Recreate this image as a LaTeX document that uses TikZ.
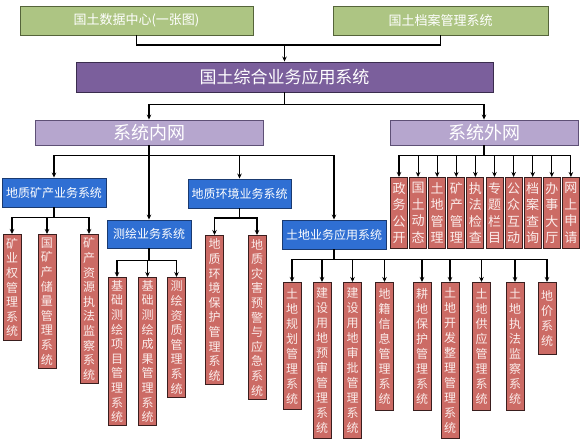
\documentclass[tikz,border=0pt]{standalone}
\usepackage{fontspec}
\newfontfamily\cjk{Noto Sans CJK SC}
\usetikzlibrary{arrows.meta}
\XeTeXlinebreaklocale "zh"
\XeTeXlinebreakskip=0pt plus 1pt

\definecolor{greenfill}{HTML}{ADC583}
\definecolor{greenline}{HTML}{55643A}
\definecolor{purplefill}{HTML}{7B5F9C}
\definecolor{purpleline}{HTML}{3A2C4E}
\definecolor{lavfill}{HTML}{B6A6CE}
\definecolor{lavline}{HTML}{5E5076}
\definecolor{bluefill}{HTML}{2F6FD3}
\definecolor{blueline}{HTML}{1A3A70}
\definecolor{redfill}{HTML}{CC6B65}
\definecolor{redline}{HTML}{3A1E1E}
\definecolor{leaftext}{HTML}{FBECEA}

\begin{document}
\begin{tikzpicture}
  [
  x=1pt, y=-1pt, line width=1.1pt, draw=black,
  >={Stealth[length=5pt,width=4.5pt]},
  box/.style={draw, line width=0.9pt, text=white, inner sep=0pt},
  topblock/.style={box, fill=greenfill, draw=greenline, minimum height=29pt, font=\cjk\fontsize{13}{15}\selectfont},
  mainblock/.style={box, fill=purplefill, draw=purpleline, minimum width=417pt, minimum height=30pt, font=\cjk\fontsize{17}{19}\selectfont},
  netblock/.style={box, fill=lavfill, draw=lavline, minimum height=25pt, font=\cjk\fontsize{18}{20}\selectfont},
  subsys/.style={box, fill=bluefill, draw=blueline, minimum height=29pt, font=\cjk\fontsize{12}{14}\selectfont},
  leaf/.style={box, fill=redfill, draw=redline, text=leaftext, anchor=north, text width=13pt, align=center, minimum width=18pt, font=\cjk\fontsize{12}{14.6}\selectfont},
  outleaf/.style={leaf, minimum width=17pt, minimum height=71pt, font=\cjk\fontsize{13}{16.5}\selectfont}
  ]
\useasboundingbox (0,0) rectangle (582,445);

\node[topblock, minimum width=233pt] (t1) at (136.5,20.5) {国土数据中心(一张图)};
\node[topblock, minimum width=215pt] (t2) at (440.5,20.5) {国土档案管理系统};
\node[mainblock] (m) at (284.5,77) {国土综合业务应用系统};
\node[netblock, minimum width=228pt] (n1) at (149,132.5) {系统内网};
\node[netblock, minimum width=188pt] (n2) at (484,132.5) {系统外网};

\node[subsys, minimum width=104pt] (s1) at (54,192.5) {地质矿产业务系统};
\node[subsys, minimum width=84pt, minimum height=28pt] (s2) at (149,234) {测绘业务系统};
\node[subsys, minimum width=103pt] (s3) at (239.5,193.5) {地质环境业务系统};
\node[subsys, minimum width=104pt] (s4) at (334,234.5) {土地业务应用系统};

\coordinate (tj) at (284.5,45);
\draw (t1.south) |- (tj) -| (t2.south);
\draw[->] (tj) -- (m.north);
\draw[->] (m.south) -- ++(0,12) -| (n1.north);
\draw[->] (m.south) -- ++(0,12) -| (n2.north);

\foreach \s in {s1,s3,s4} {
  \draw[->] (n1.south) -- ++(0,10) -| (\s.north);
}
\draw[->] (n1.south) -- (s2.north);

% 外网栏目
\foreach \i/\t in {1/政务公开,2/国土动态,3/土地管理,4/矿产管理,5/执法检查,
                   6/专题栏目,7/公众互动,8/档案查询,9/办事大厅,10/网上申请} {
  \node[outleaf] (w\i) at (399+19.1*\i-19.1,177) {\t};
  \draw[->] (n2.south) -- ++(0,10) -| (w\i.north);
}

% 地质矿产
\foreach \i/\x/\h/\t in {1/12/106/矿业权管理系统,2/47/134/国矿产储量管理系统,
                         3/89/149/矿产资源执法监察系统} {
  \node[leaf, minimum height=\h pt] (a\i) at (\x,234) {\t};
  \draw[->] (s1.south) -- ++(0,10) -| (a\i.north);
}

% 测绘
\foreach \i/\x/\h/\t in {1/117/148/基础测绘项目管理系统,2/147.5/148/基础测绘成果管理系统,
                         3/176.5/120/测绘资质管理系统} {
  \node[leaf, minimum height=\h pt] (b\i) at (\x,277) {\t};
  \draw[->] (s2.south) -- ++(0,12) -| (b\i.north);
}

% 地质环境
\foreach \i/\x/\h/\t in {1/214.5/149/地质环境保护管理系统,2/257/164/地质灾害预警与应急系统} {
  \node[leaf, minimum height=\h pt] (c\i) at (\x,235) {\t};
  \draw[->] (s3.south) -- ++(0,9.5) -| (c\i.north);
}

% 土地
\foreach \i/\x/\h/\t in {1/292/127/土地规划管理系统,2/322/156/建设用地预审管理系统,
                         3/352.5/156/建设用地审批管理系统,4/384.5/128/地籍信息管理系统,
                         5/422/128/耕地保护管理系统,6/450/156/土地开发整理管理系统,
                         7/481.5/128/土地供应管理系统,8/515/128/土地执法监察系统,
                         9/547/72/地价系统} {
  \node[leaf, minimum height=\h pt, font=\cjk\fontsize{12}{15}\selectfont] (d\i) at (\x,282) {\t};
  \draw[->] (s4.south) -- ++(0,10) -| (d\i.north);
}

\end{tikzpicture}
\end{document}
